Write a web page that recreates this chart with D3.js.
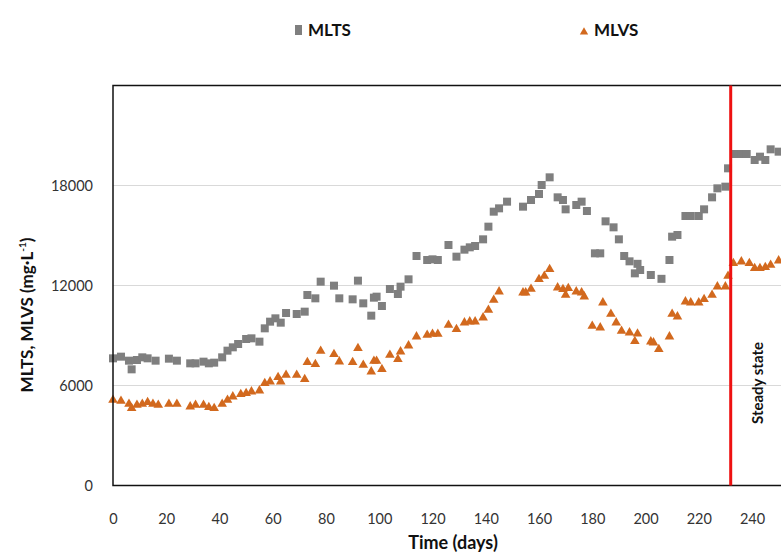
<!DOCTYPE html>
<html><head><meta charset="utf-8">
<script src="https://cdn.jsdelivr.net/npm/d3@7"></script>
<style>
body{margin:0;background:#fff;}
svg{display:block;font-family:Lato, "Open Sans", sans-serif;}
</style></head>
<body><svg id="c" width="781" height="555"></svg>
<script>
const mltsDays = [0,3,6,7,9,11,13,16,21,24,29,31,34,36,38,41,43,45,47,50,52,55,57,59,61,63,65,69,72,73,76,78,83,85,90,92,94,97,98,99,101,104,107,108,111,114,118,120,122,126,129,132,134,136,139,141,143,145,148,154,157,160,161,164,167,169,170,174,176,178,181,183,185,188,190,192,194,196,197,198,202,206,209,210,212,215,217,220,222,225,227,230,231,234,236,238,241,243,245,247,250];
const mltsValues = [7630,7730,7490,6970,7530,7690,7630,7490,7610,7490,7330,7330,7430,7330,7370,7690,8090,8290,8490,8790,8830,8630,9430,9830,10030,9770,10350,10290,10430,11430,11230,12230,11990,11230,11170,12290,10930,10190,11270,11330,10770,11790,11490,11930,12370,13770,13530,13570,13530,14430,13730,14150,14290,14370,14770,15530,16430,16630,17030,16730,17130,17490,18030,18490,17290,17130,16570,16830,17030,16470,13930,13930,15850,15490,14770,13770,13450,12730,13300,12930,12630,12400,13530,14930,15030,16170,16170,16170,16570,17290,17830,17930,19030,19890,19890,19890,19530,19730,19530,20170,20030];
const mlvsDays = [0,3,6,7,9,11,13,15,17,21,24,29,31,34,36,38,41,43,45,48,50,52,55,57,59,62,63,65,69,72,73,76,78,83,85,90,92,94,97,98,99,101,104,107,108,111,114,118,120,122,126,129,132,134,136,139,141,143,145,154,155,157,160,162,164,167,169,170,171,174,176,177,180,183,184,187,189,191,194,196,197,202,203,205,209,210,212,215,217,220,222,225,227,230,231,233,236,239,241,243,245,247,250];
const mlvsValues = [5130,5070,4890,4630,4830,4890,4990,4890,4830,4890,4890,4730,4830,4830,4690,4630,4890,5130,5330,5470,5530,5630,5690,6130,6230,6490,6230,6630,6630,6370,7390,7270,8070,7870,7430,7390,8230,7230,6830,7470,7470,6970,7830,7570,8030,8390,8930,9030,9090,9090,9630,9370,9770,9830,9830,10070,10530,11130,11630,11570,11570,11790,12370,12570,12970,11870,11770,11430,11830,11630,11570,11330,9570,9470,10970,10290,9770,9270,9170,8650,9100,8630,8570,8170,8930,10290,10130,11030,10970,10970,11170,11430,11930,11930,12570,13330,13430,13330,13030,13030,13090,13230,13490];
const xTicks = [0,20,40,60,80,100,120,140,160,180,200,220,240];
const yTicks = [0,6000,12000,18000];
const steadyDay = 232;
const seriesNames = ["MLTS","MLVS"];

const svg = d3.select("#c");
const x = d3.scaleLinear().domain([0,260]).range([113, 805.25]);
const y = d3.scaleLinear().domain([0,24000]).range([485.5, 85.5]);

// gridlines
svg.append("g").selectAll("line").data(yTicks.filter(d=>d>0)).join("line")
  .attr("x1", x(0)).attr("x2", x(260)).attr("y1", d=>y(d)).attr("y2", d=>y(d))
  .attr("stroke", "#d9d9d9").attr("stroke-width", 1);

// axes labels
const ya = svg.append("g").attr("transform", `translate(${x(0)},0)`)
  .call(d3.axisLeft(y).tickValues(yTicks).tickSize(0).tickPadding(20).tickFormat(d3.format("d")));
ya.select(".domain").remove();
ya.selectAll("text").attr("font-size", 14.5).attr("fill", "#333").attr("font-family", "Lato, sans-serif");

const xa = svg.append("g").attr("transform", `translate(0,${y(0)})`)
  .call(d3.axisBottom(x).tickValues(xTicks).tickSize(0).tickPadding(28));
xa.select(".domain").remove();
xa.selectAll("text").attr("font-size", 14.5).attr("fill", "#333").attr("font-family", "Lato, sans-serif");

// markers
svg.append("g").selectAll("rect").data(mltsDays.map((d,i)=>[d, mltsValues[i]])).join("rect")
  .attr("x", d=>x(d[0])-4).attr("y", d=>y(d[1])-4).attr("width", 8).attr("height", 8)
  .attr("fill", "#7f7f7f");
const tri = d3.symbol().type(d3.symbolTriangle).size(40);
svg.append("g").selectAll("path").data(mlvsDays.map((d,i)=>[d, mlvsValues[i]])).join("path")
  .attr("d", tri).attr("transform", d=>`translate(${x(d[0])},${y(d[1])})`)
  .attr("fill", "#d2691e");

// frame
svg.append("path")
  .attr("d", `M${x(260)},${y(24000)}H${x(0)}V${y(0)}H${x(260)}`)
  .attr("fill", "none").attr("stroke", "#111").attr("stroke-width", 1.5);

// steady line
svg.append("line").attr("x1", x(steadyDay)).attr("x2", x(steadyDay))
  .attr("y1", y(24000)).attr("y2", y(0)).attr("stroke", "#ee1111").attr("stroke-width", 3);
svg.append("text").attr("transform", `translate(759,383) rotate(-90)`)
  .attr("text-anchor", "middle").attr("dominant-baseline", "middle")
  .attr("font-size", 15).attr("font-weight", "bold").attr("fill", "#111").text("Steady state");

// titles
svg.append("text").attr("x", 453).attr("y", 549).attr("text-anchor", "middle")
  .attr("font-size", 18).attr("font-weight", "bold").attr("fill", "#111").text("Time (days)");
const yt = svg.append("text").attr("transform", "translate(33,315) rotate(-90)")
  .attr("text-anchor", "middle").attr("font-size", 17).attr("font-weight", "bold").attr("fill", "#111");
yt.append("tspan").text("MLTS, MLVS (mg·L");
yt.append("tspan").attr("font-size", 10).attr("dy", -7).text("-1");
yt.append("tspan").attr("dy", 7).text(")");

// legend
const lg = svg.append("g");
lg.append("rect").attr("x", 295).attr("y", 25).attr("width", 7).attr("height", 10).attr("fill", "#7f7f7f");
lg.append("text").attr("x", 308).attr("y", 36).attr("font-size", 17).attr("font-weight", "bold").attr("fill", "#111").text(seriesNames[0]);
lg.append("path").attr("d", d3.symbol().type(d3.symbolTriangle).size(30)).attr("transform", "translate(584,32)").attr("fill", "#d2691e");
lg.append("text").attr("x", 594).attr("y", 36).attr("font-size", 17).attr("font-weight", "bold").attr("fill", "#111").text(seriesNames[1]);
</script></body></html>
